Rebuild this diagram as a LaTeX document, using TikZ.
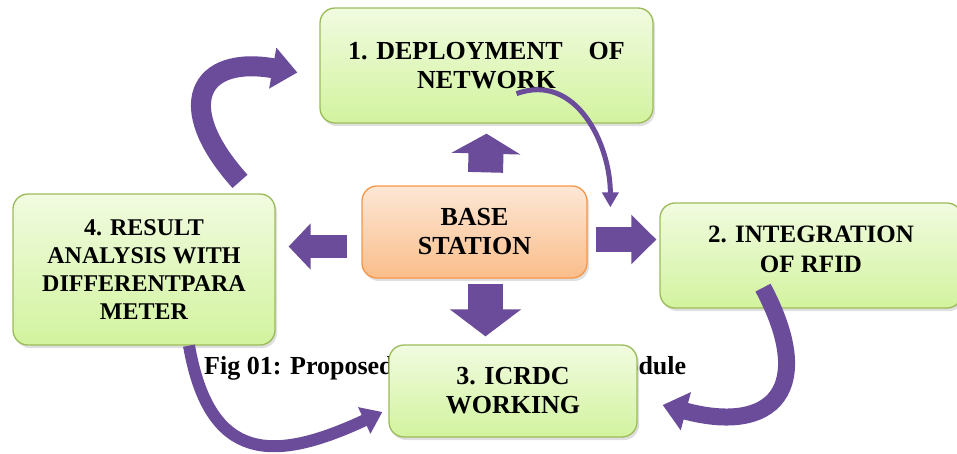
\documentclass[tikz,border=0pt]{standalone}
\usepackage{fontspec}
\setmainfont{Liberation Serif}
\usetikzlibrary{arrows.meta,shadows}

\definecolor{leafline}{RGB}{155,187,89}
\definecolor{leaftop}{RGB}{241,251,224}
\definecolor{leafbot}{RGB}{210,243,158}
\definecolor{peachtop}{RGB}{253,231,214}
\definecolor{peachbot}{RGB}{250,190,138}
\definecolor{peachline}{RGB}{247,150,70}
\definecolor{grape}{RGB}{106,76,154}

\tikzset{
  stage/.style={draw=leafline, line width=1.3pt, rounded corners=15pt,
    top color=leaftop, bottom color=leafbot, align=center,
    font=\bfseries\fontsize{26}{29}\selectfont,
    drop shadow={shadow xshift=2pt, shadow yshift=-3pt, opacity=.25}},
  hub/.style={stage, draw=peachline, top color=peachtop, bottom color=peachbot},
  block/.style n args={3}{draw=grape, line width=#1, -{Triangle[width=#2,length=#3]}},
  curl/.style n args={3}{draw=grape, line width=#1, -{Triangle[width=#2,length=#3]}},
  caption/.style={font=\bfseries\fontsize{26}{29}\selectfont, inner sep=0pt}
}

\begin{document}
\begin{tikzpicture}[x=1pt,y=-1pt]
  \useasboundingbox (0,0) rectangle (957,453);

  % caption, partly hidden by stage 3
  \node[caption, anchor=base west] (cap) at (204,374) {\makebox[482pt][l]{Fig 01: Proposed\hfill Module}};

  % boxes
  \node[stage, minimum width=333pt, minimum height=115pt] (deploy) at (486.5,65.5) {1. DEPLOYMENT\quad OF\\NETWORK};
  \node[stage, minimum width=302pt, minimum height=105pt, text depth=12pt,
    font=\bfseries\fontsize{25}{30}\selectfont] (rfid) at (811,255.5) {2. INTEGRATION\\OF RFID};
  \node[stage, minimum width=248pt, minimum height=92pt] (icrdc) at (513,391) {3. ICRDC\\WORKING};
  \node[stage, minimum width=262pt, minimum height=151pt,
    font=\bfseries\fontsize{24}{28}\selectfont] (result) at (144,269.5) {4. RESULT\\ANALYSIS WITH\\DIFFERENTPARA\\METER};
  \node[hub, minimum width=225pt, minimum height=92pt] (base) at (474.5,232) {BASE\\STATION};

  % block arrows out of the base station
  \draw[block={35pt}{68pt}{20pt}] ([xshift=11pt,yshift=13pt]base.north) -- ([yshift=-10pt]deploy.south);
  \draw[block={35pt}{70pt}{27pt}] ([xshift=11pt,yshift=-5pt]base.south) -- ([xshift=-27.5pt,yshift=8pt]icrdc.north);
  \draw[block={25pt}{48pt}{25pt}] ([xshift=8pt,yshift=-7.5pt]base.east) -- ([xshift=-3pt,yshift=16pt]rfid.west);
  \draw[block={23pt}{45pt}{22pt}] ([xshift=-14pt,yshift=-14.5pt]base.west) -- ([xshift=13pt,yshift=23pt]result.east);

  % curved arrows round the cycle
  \draw[curl={20pt}{40pt}{25pt}] ([xshift=96pt,yshift=12pt]result.north) to[out=132,in=170,looseness=2.1] ([xshift=-22pt,yshift=-7pt]deploy.west);
  \draw[curl={5pt}{16pt}{15pt}] ([xshift=30pt,yshift=30pt]deploy.south) to[out=20,in=90,looseness=1.1] ([xshift=-49pt,yshift=-5pt]rfid.north west);
  \draw[curl={17pt}{38pt}{24pt}] ([xshift=-48pt,yshift=21pt]rfid.south) to[out=-62,in=-15,looseness=1.9] ([xshift=25pt,yshift=-14pt]icrdc.east);
  \draw[curl={12pt}{28pt}{20pt}] ([xshift=45pt]result.south) to[out=-80,in=205,looseness=1.5] ([xshift=-6pt,yshift=-21pt]icrdc.west);
\end{tikzpicture}
\end{document}
